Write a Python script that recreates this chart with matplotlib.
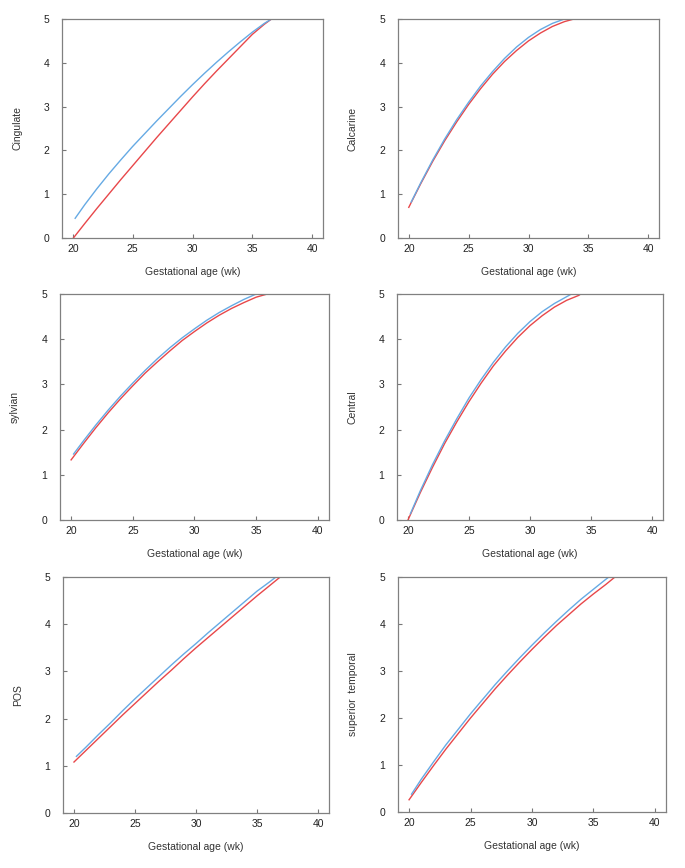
import matplotlib
matplotlib.use('Agg')
import matplotlib.pyplot as plt

plt.rcParams['font.family'] = ['Liberation Sans', 'DejaVu Sans']

# panel titles (y labels)
labels = ['Cingulate', 'Calcarine', 'sylvian', 'Central', 'POS', 'superior  temporal']

# --- Cingulate
cing_bx = [20.2, 21, 22, 23, 24, 25, 26, 27, 28, 29, 30, 31, 32, 33, 34, 35, 36, 36.6]
cing_by = [0.45, 0.76, 1.12, 1.46, 1.78, 2.09, 2.38, 2.67, 2.95, 3.23, 3.50, 3.76, 4.01, 4.25, 4.48, 4.70, 4.90, 5.0]
cing_rx = [20.05, 21, 22, 23, 24, 25, 26, 27, 28, 29, 30, 31, 32, 33, 34, 35, 36, 36.6]
cing_ry = [0.0, 0.33, 0.67, 1.0, 1.33, 1.65, 1.97, 2.29, 2.60, 2.91, 3.22, 3.52, 3.81, 4.09, 4.37, 4.65, 4.88, 5.0]

# --- Calcarine
calc_bx = [20.2, 21, 22, 23, 24, 25, 26, 27, 28, 29, 30, 31, 32, 33]
calc_by = [0.82, 1.26, 1.78, 2.26, 2.70, 3.10, 3.47, 3.80, 4.10, 4.36, 4.58, 4.76, 4.90, 5.0]
calc_rx = [20, 21, 22, 23, 24, 25, 26, 27, 28, 29, 30, 31, 32, 33, 33.8]
calc_ry = [0.70, 1.24, 1.75, 2.22, 2.65, 3.05, 3.41, 3.74, 4.03, 4.28, 4.50, 4.68, 4.83, 4.94, 5.0]

# --- sylvian
syl_bx = [20.2, 21, 22, 23, 24, 25, 26, 27, 28, 29, 30, 31, 32, 33, 34, 35]
syl_by = [1.46, 1.75, 2.10, 2.43, 2.74, 3.03, 3.31, 3.57, 3.81, 4.03, 4.23, 4.42, 4.59, 4.74, 4.88, 5.0]
syl_rx = [20, 21, 22, 23, 24, 25, 26, 27, 28, 29, 30, 31, 32, 33, 34, 35, 35.9]
syl_ry = [1.33, 1.69, 2.04, 2.37, 2.68, 2.97, 3.25, 3.50, 3.74, 3.97, 4.17, 4.36, 4.53, 4.68, 4.81, 4.93, 5.0]

# --- Central
cen_bx = [20.2, 21, 22, 23, 24, 25, 26, 27, 28, 29, 30, 31, 32, 33, 33.4]
cen_by = [0.14, 0.64, 1.22, 1.75, 2.24, 2.70, 3.11, 3.49, 3.83, 4.13, 4.39, 4.61, 4.79, 4.94, 5.0]
cen_rx = [20, 21, 22, 23, 24, 25, 26, 27, 28, 29, 30, 31, 32, 33, 34, 34.15]
cen_ry = [0.0, 0.60, 1.16, 1.69, 2.17, 2.62, 3.03, 3.41, 3.74, 4.04, 4.30, 4.52, 4.71, 4.86, 4.97, 5.0]

# --- POS
pos_bx = [20.2, 21, 22, 23, 24, 25, 26, 27, 28, 29, 30, 31, 32, 33, 34, 35, 36, 36.55]
pos_by = [1.20, 1.40, 1.66, 1.91, 2.17, 2.42, 2.66, 2.90, 3.14, 3.37, 3.59, 3.82, 4.04, 4.26, 4.48, 4.70, 4.89, 5.0]
pos_rx = [20, 21, 22, 23, 24, 25, 26, 27, 28, 29, 30, 31, 32, 33, 34, 35, 36, 36.9]
pos_ry = [1.08, 1.33, 1.58, 1.83, 2.08, 2.32, 2.56, 2.80, 3.03, 3.27, 3.50, 3.72, 3.94, 4.16, 4.38, 4.60, 4.81, 5.0]

# --- superior temporal
st_bx = [20.2, 21, 22, 23, 24, 25, 26, 27, 28, 29, 30, 31, 32, 33, 34, 35, 36, 36.25]
st_by = [0.38, 0.70, 1.07, 1.43, 1.76, 2.09, 2.40, 2.71, 3.00, 3.28, 3.55, 3.81, 4.06, 4.30, 4.53, 4.74, 4.95, 5.0]
st_rx = [20, 21, 22, 23, 24, 25, 26, 27, 28, 29, 30, 31, 32, 33, 34, 35, 36, 36.75]
st_ry = [0.26, 0.63, 0.99, 1.34, 1.67, 2.0, 2.31, 2.62, 2.91, 3.19, 3.46, 3.72, 3.97, 4.20, 4.43, 4.64, 4.84, 5.0]

blue = [(cing_bx, cing_by), (calc_bx, calc_by), (syl_bx, syl_by),
        (cen_bx, cen_by), (pos_bx, pos_by), (st_bx, st_by)]
red = [(cing_rx, cing_ry), (calc_rx, calc_ry), (syl_rx, syl_ry),
       (cen_rx, cen_ry), (pos_rx, pos_ry), (st_rx, st_ry)]

xticks = [20, 25, 30, 35, 40]
yticks = [0, 1, 2, 3, 4, 5]

W, H = 685, 868
# axes boxes in pixels: left, right, top, bottom
boxes = [(62, 323, 19, 238), (398, 659, 19, 238),
         (60, 329, 294, 520), (397, 663, 294, 520),
         (63, 329, 577, 813), (398, 666, 577, 812)]

fig = plt.figure(figsize=(W / 100, H / 100), dpi=100)
for i in range(6):
    l, r, t, b = boxes[i]
    ax = fig.add_axes([l / W, (H - b) / H, (r - l) / W, (b - t) / H])
    ax.plot(red[i][0], red[i][1], color='#e8474a', lw=1.0)
    ax.plot(blue[i][0], blue[i][1], color='#66aae4', lw=1.0)
    ax.set_xlim(19.1, 40.9)
    ax.set_ylim(0, 5)
    ax.set_xticks(xticks)
    ax.set_yticks(yticks)
    ax.tick_params(direction='in', length=3, width=0.8, color='#777777',
                   labelsize=7.5, labelcolor='#222222')
    ax.tick_params(axis='x', pad=4)
    ax.tick_params(axis='y', pad=9)
    for s in ax.spines.values():
        s.set_color('#808080')
        s.set_linewidth(0.9)
    ax.set_xlabel('Gestational age (wk)', fontsize=7.5, color='#333333')
    ax.set_ylabel(labels[i], fontsize=7.5, color='#333333')
    ax.xaxis.set_label_coords(0.5, -29 / (b - t))
    ax.yaxis.set_label_coords(-40 / (r - l), 0.5)

fig.savefig('out.png', dpi=100)
